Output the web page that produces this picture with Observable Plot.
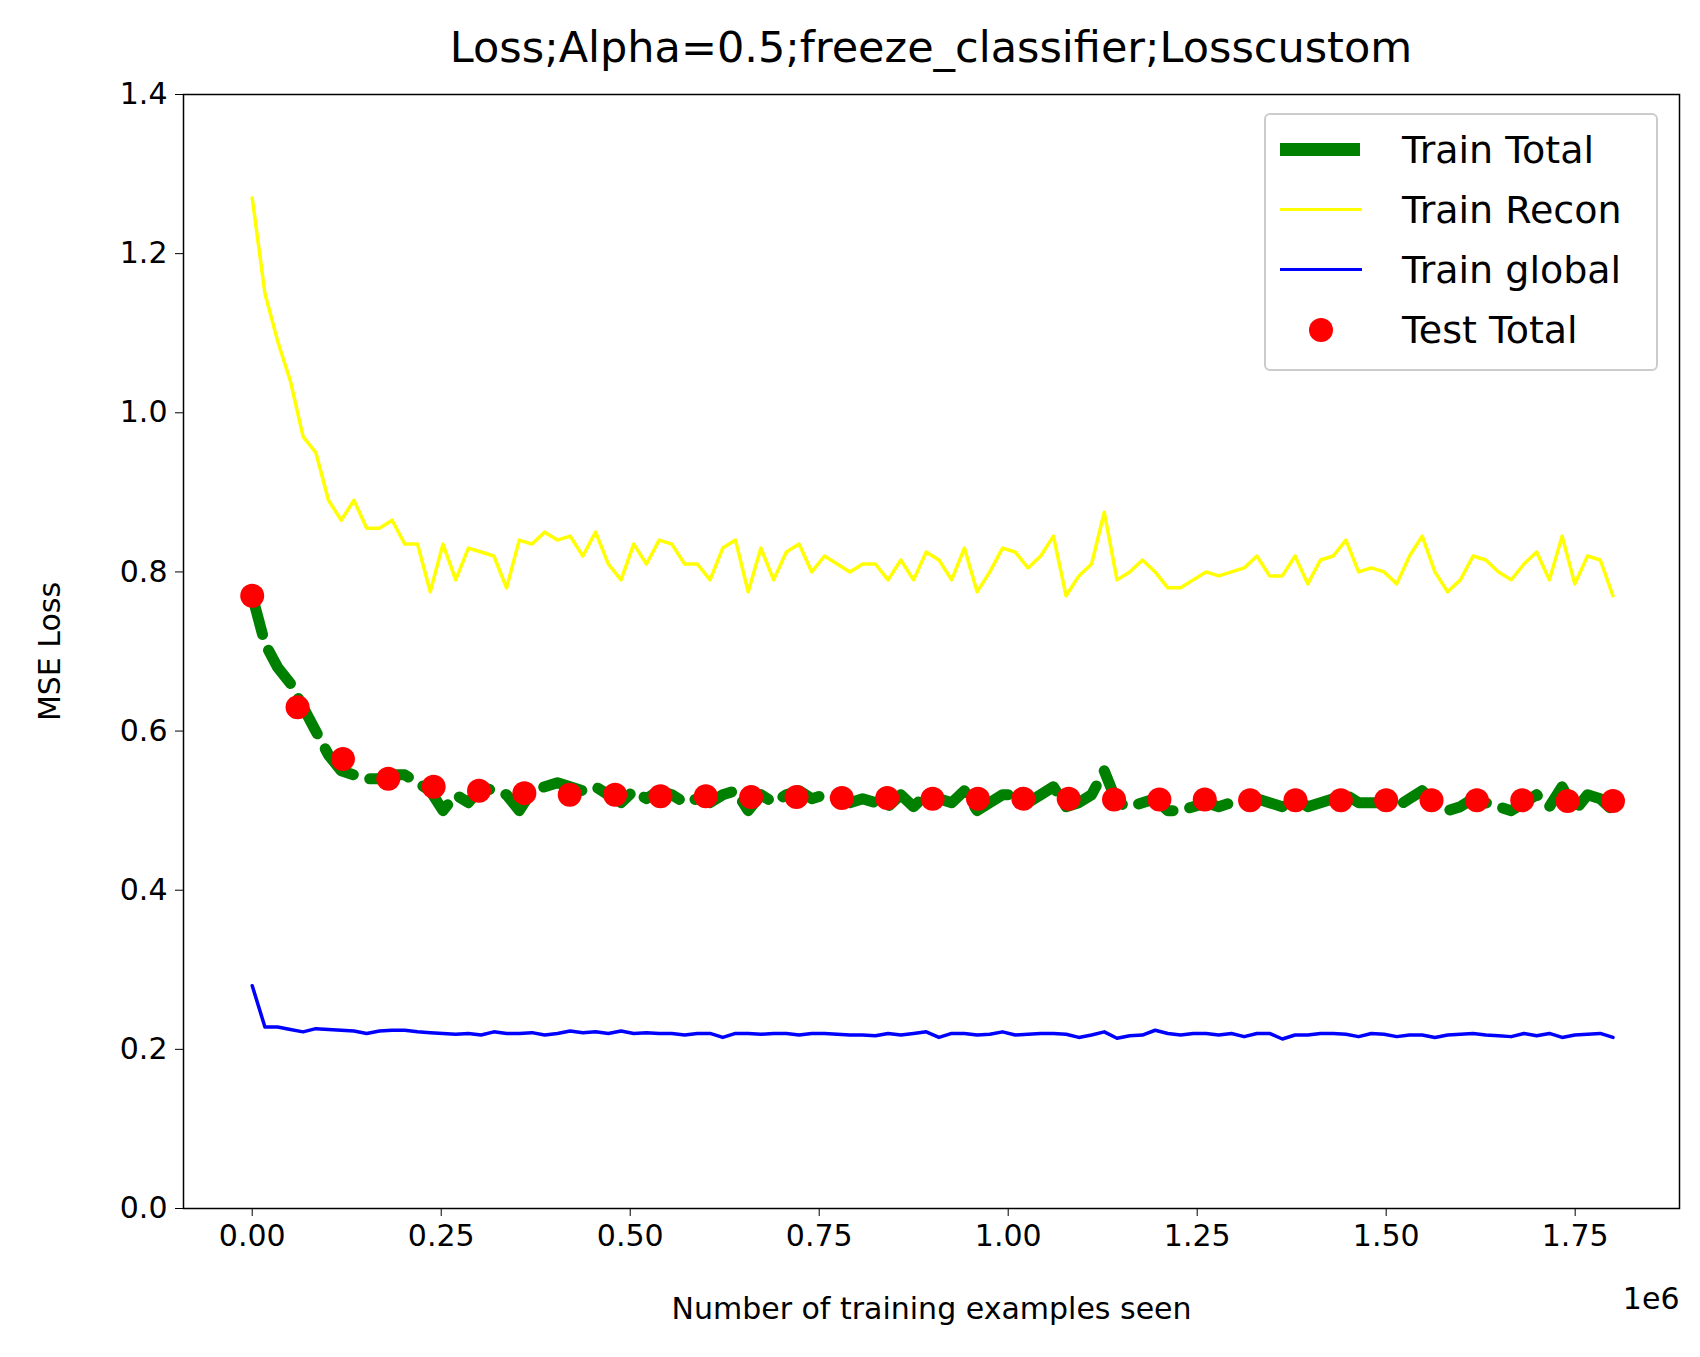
<!DOCTYPE html>
<html>
<head>
<meta charset="utf-8">
<script src="https://cdn.jsdelivr.net/npm/d3@7"></script>
<script src="https://cdn.jsdelivr.net/npm/@observablehq/plot@0.6"></script>
<style>
body { margin: 0; background: #fff; font-family: "DejaVu Sans", sans-serif; }
#wrap { position: relative; width: 1700px; height: 1357px; }
#title { position: absolute; top: 22px; left: 183px; width: 1496px; text-align: center; font-size: 43px; white-space: nowrap; }
#chart { position: absolute; top: 0; left: 0; }
#legend { position: absolute; left: 1264px; top: 113px; width: 394px; height: 258px; border: 2px solid #ccc; border-radius: 6px; background: #fff; font-size: 38px; box-sizing: border-box; }
.row { position: absolute; left: 14px; height: 50px; display: flex; align-items: center; }
.row span { position: absolute; left: 122px; white-space: nowrap; }
.sw { width: 90px; height: 50px; position: relative; }
</style>
</head>
<body>
<div id="wrap">
<div id="chart"></div>
<div id="title">Loss;Alpha=0.5;freeze_classifier;Losscustom</div>
<div id="legend">
  <div class="row" style="top:10px"><div class="sw"><div style="position:absolute;left:0;top:18px;width:80px;height:13px;background:green"></div></div><span>Train Total</span></div>
  <div class="row" style="top:70px"><div class="sw"><div style="position:absolute;left:0;top:23px;width:82px;height:3px;background:yellow"></div></div><span>Train Recon</span></div>
  <div class="row" style="top:130px"><div class="sw"><div style="position:absolute;left:0;top:23px;width:82px;height:3px;background:blue"></div></div><span>Train global</span></div>
  <div class="row" style="top:190px"><div class="sw"><div style="position:absolute;left:29px;top:13px;width:24px;height:24px;border-radius:50%;background:red"></div></div><span>Test Total</span></div>
</div>
</div>
<script>
const trainTotal = [0.77,0.71,0.68,0.66,0.63,0.60,0.57,0.55,0.545,0.54,0.54,0.545,0.545,0.535,0.525,0.50,0.52,0.51,0.53,0.525,0.52,0.50,0.525,0.53,0.535,0.53,0.525,0.53,0.52,0.51,0.525,0.515,0.525,0.52,0.51,0.515,0.51,0.52,0.525,0.50,0.52,0.51,0.52,0.525,0.515,0.52,0.515,0.51,0.515,0.51,0.505,0.52,0.505,0.52,0.515,0.51,0.525,0.50,0.51,0.52,0.52,0.51,0.52,0.53,0.505,0.51,0.52,0.55,0.51,0.505,0.51,0.515,0.50,0.50,0.505,0.51,0.505,0.51,0.51,0.515,0.51,0.505,0.515,0.505,0.51,0.515,0.52,0.51,0.51,0.51,0.505,0.515,0.525,0.51,0.50,0.505,0.515,0.51,0.505,0.50,0.51,0.52,0.505,0.53,0.50,0.52,0.515,0.50];
const trainRecon = [1.27,1.15,1.09,1.04,0.97,0.95,0.89,0.865,0.89,0.855,0.855,0.865,0.835,0.835,0.775,0.835,0.79,0.83,0.825,0.82,0.78,0.84,0.835,0.85,0.84,0.845,0.82,0.85,0.81,0.79,0.835,0.81,0.84,0.835,0.81,0.81,0.79,0.83,0.84,0.775,0.83,0.79,0.825,0.835,0.80,0.82,0.81,0.80,0.81,0.81,0.79,0.815,0.79,0.825,0.815,0.79,0.83,0.775,0.80,0.83,0.825,0.805,0.82,0.845,0.77,0.795,0.81,0.875,0.79,0.80,0.815,0.80,0.78,0.78,0.79,0.80,0.795,0.80,0.805,0.82,0.795,0.795,0.82,0.785,0.815,0.82,0.84,0.80,0.805,0.80,0.785,0.82,0.845,0.80,0.775,0.79,0.82,0.815,0.80,0.79,0.81,0.825,0.79,0.845,0.785,0.82,0.815,0.77];
const trainGlobal = [0.28,0.228,0.228,0.225,0.222,0.226,0.225,0.224,0.223,0.22,0.223,0.224,0.224,0.222,0.221,0.22,0.219,0.22,0.218,0.222,0.22,0.22,0.221,0.218,0.22,0.223,0.221,0.222,0.22,0.223,0.22,0.221,0.22,0.22,0.218,0.22,0.22,0.215,0.22,0.22,0.219,0.22,0.22,0.218,0.22,0.22,0.219,0.218,0.218,0.217,0.22,0.218,0.22,0.222,0.215,0.22,0.22,0.218,0.219,0.222,0.218,0.219,0.22,0.22,0.219,0.215,0.218,0.222,0.214,0.217,0.218,0.224,0.22,0.218,0.22,0.22,0.218,0.22,0.216,0.22,0.22,0.213,0.218,0.218,0.22,0.22,0.219,0.216,0.22,0.219,0.216,0.218,0.218,0.215,0.218,0.219,0.22,0.218,0.217,0.216,0.22,0.217,0.22,0.215,0.218,0.219,0.22,0.215];
const testTotal = [0.77,0.63,0.565,0.54,0.53,0.525,0.522,0.52,0.52,0.518,0.518,0.517,0.517,0.516,0.516,0.515,0.515,0.515,0.515,0.514,0.514,0.514,0.513,0.513,0.513,0.513,0.513,0.513,0.513,0.512,0.512];
const maxSeen = 1.8e6;
const xTicks = [0, 0.25e6, 0.5e6, 0.75e6, 1e6, 1.25e6, 1.5e6, 1.75e6];
const yTicks = [0, 0.2, 0.4, 0.6, 0.8, 1.0, 1.2, 1.4];

// spread each series evenly over the examples seen
const toRows = arr => arr.map((v, i) => ({x: i * maxSeen / (arr.length - 1), y: v}));

const chart = Plot.plot({
  width: 1700,
  height: 1357,
  marginLeft: 183,
  marginRight: 21,
  marginTop: 94,
  marginBottom: 149,
  style: {fontFamily: "DejaVu Sans", fontSize: 30, color: "black", background: "white"},
  x: {domain: [-0.0909e6, 1.888e6], ticks: xTicks, tickFormat: d => (d / 1e6).toFixed(2), tickSize: 8, tickPadding: 8,
      label: "Number of training examples seen", labelAnchor: "center", labelArrow: "none", labelOffset: 110},
  y: {domain: [0, 1.4], ticks: yTicks, tickFormat: d => d.toFixed(1), tickSize: 8, tickPadding: 8,
      label: "MSE Loss", labelAnchor: "center", labelArrow: "none", labelOffset: 145},
  marks: [
    Plot.frame({stroke: "black", strokeWidth: 1.5}),
    Plot.line(toRows(trainRecon), {x: "x", y: "y", stroke: "yellow", strokeWidth: 3.5}),
    Plot.line(toRows(trainGlobal), {x: "x", y: "y", stroke: "blue", strokeWidth: 3.5}),
    Plot.line(toRows(trainTotal), {x: "x", y: "y", stroke: "green", strokeWidth: 11, strokeDasharray: "40,17"}),
    Plot.dot(toRows(testTotal), {x: "x", y: "y", fill: "red", r: 12}),
    Plot.text(["1e6"], {frameAnchor: "bottom-right", dy: 100, dx: 0, fontSize: 30, textAnchor: "end"})
  ]
});
document.getElementById("chart").append(chart);
</script>
</body>
</html>
